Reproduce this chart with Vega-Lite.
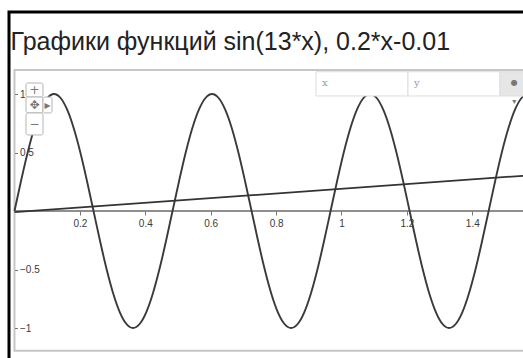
{
  "$schema": "https://vega.github.io/schema/vega-lite/v6.json",
  "width": 520,
  "height": 350,
  "autosize": "none",
  "padding": {"left": 9, "top": 12, "right": 0, "bottom": 0},
  "background": "white",
  "config": {"view": {"stroke": "#000000", "strokeWidth": 3}},
  "datasets": {
    "sine": [
      {"x": 0, "y": 0}, {"x": 0.0201, "y": 0.2588}, {"x": 0.0403, "y": 0.5}, {"x": 0.0604, "y": 0.7071},
      {"x": 0.0806, "y": 0.866}, {"x": 0.1007, "y": 0.9659}, {"x": 0.1208, "y": 1}, {"x": 0.141, "y": 0.9659},
      {"x": 0.1611, "y": 0.866}, {"x": 0.1812, "y": 0.7071}, {"x": 0.2014, "y": 0.5}, {"x": 0.2215, "y": 0.2588},
      {"x": 0.2417, "y": 0}, {"x": 0.2618, "y": -0.2588}, {"x": 0.2819, "y": -0.5}, {"x": 0.3021, "y": -0.7071},
      {"x": 0.3222, "y": -0.866}, {"x": 0.3424, "y": -0.9659}, {"x": 0.3625, "y": -1}, {"x": 0.3826, "y": -0.9659},
      {"x": 0.4028, "y": -0.866}, {"x": 0.4229, "y": -0.7071}, {"x": 0.443, "y": -0.5}, {"x": 0.4632, "y": -0.2588},
      {"x": 0.4833, "y": 0}, {"x": 0.5035, "y": 0.2588}, {"x": 0.5236, "y": 0.5}, {"x": 0.5437, "y": 0.7071},
      {"x": 0.5639, "y": 0.866}, {"x": 0.584, "y": 0.9659}, {"x": 0.6042, "y": 1}, {"x": 0.6243, "y": 0.9659},
      {"x": 0.6444, "y": 0.866}, {"x": 0.6646, "y": 0.7071}, {"x": 0.6847, "y": 0.5}, {"x": 0.7048, "y": 0.2588},
      {"x": 0.725, "y": 0}, {"x": 0.7451, "y": -0.2588}, {"x": 0.7653, "y": -0.5}, {"x": 0.7854, "y": -0.7071},
      {"x": 0.8055, "y": -0.866}, {"x": 0.8257, "y": -0.9659}, {"x": 0.8458, "y": -1}, {"x": 0.866, "y": -0.9659},
      {"x": 0.8861, "y": -0.866}, {"x": 0.9062, "y": -0.7071}, {"x": 0.9264, "y": -0.5}, {"x": 0.9465, "y": -0.2588},
      {"x": 0.9666, "y": 0}, {"x": 0.9868, "y": 0.2588}, {"x": 1.0069, "y": 0.5}, {"x": 1.0271, "y": 0.7071},
      {"x": 1.0472, "y": 0.866}, {"x": 1.0673, "y": 0.9659}, {"x": 1.0875, "y": 1}, {"x": 1.1076, "y": 0.9659},
      {"x": 1.1277, "y": 0.866}, {"x": 1.1479, "y": 0.7071}, {"x": 1.168, "y": 0.5}, {"x": 1.1882, "y": 0.2588},
      {"x": 1.2083, "y": 0}, {"x": 1.2284, "y": -0.2588}, {"x": 1.2486, "y": -0.5}, {"x": 1.2687, "y": -0.7071},
      {"x": 1.2889, "y": -0.866}, {"x": 1.309, "y": -0.9659}, {"x": 1.3291, "y": -1}, {"x": 1.3493, "y": -0.9659},
      {"x": 1.3694, "y": -0.866}, {"x": 1.3895, "y": -0.7071}, {"x": 1.4097, "y": -0.5}, {"x": 1.4298, "y": -0.2588},
      {"x": 1.45, "y": 0}, {"x": 1.4701, "y": 0.2588}, {"x": 1.4902, "y": 0.5}, {"x": 1.5104, "y": 0.7071},
      {"x": 1.5305, "y": 0.866}, {"x": 1.5506, "y": 0.9659}, {"x": 1.5708, "y": 1}
    ],
    "linear": [
      {"x": 0, "y": -0.01},
      {"x": 1.5708, "y": 0.3042}
    ]
  },
  "layer": [
    {
      "description": "plot area with its light grey border; carries the scales and the axes through the origin",
      "data": {"values": [{}]},
      "mark": {"type": "rect", "fill": "white", "stroke": "#c6c6c6", "strokeWidth": 2},
      "encoding": {
        "x": {
          "datum": 0, "type": "quantitative",
          "scale": {"domain": [-0.0168, 1.5734], "nice": false, "zero": false},
          "axis": {
            "orient": "bottom", "offset": -151, "values": [0.2, 0.4, 0.6, 0.8, 1, 1.2, 1.4], "format": "~g",
            "domain": false, "grid": false, "title": null, "tickSize": 4, "tickColor": "#777777",
            "labelFont": "Liberation Sans", "labelFontSize": 10, "labelColor": "#3a3a3a", "labelPadding": 3, "zindex": 1
          }
        },
        "x2": {"datum": 1.5734},
        "y": {
          "datum": -1.194, "type": "quantitative",
          "scale": {"domain": [-1.2906, 1.7009], "nice": false, "zero": false},
          "axis": {
            "orient": "right", "offset": -514.5, "values": [-1, -0.5, 0.5, 1], "format": "~g",
            "domain": false, "grid": false, "title": null, "tickSize": 3, "tickColor": "#777777",
            "labelFont": "Liberation Sans", "labelFontSize": 10, "labelColor": "#3a3a3a", "labelPadding": 2, "zindex": 1
          }
        },
        "y2": {"datum": 1.205}
      }
    },
    {
      "description": "chart heading inside the frame",
      "data": {"values": [{}]},
      "mark": {
        "type": "text", "text": "Графики функций sin(13*x), 0.2*x-0.01",
        "align": "left", "baseline": "alphabetic",
        "font": "Liberation Sans", "fontSize": 25, "color": "#222222"
      },
      "encoding": {
        "x": {"datum": -0.0122, "type": "quantitative"},
        "y": {"datum": 1.376, "type": "quantitative"}
      }
    },
    {
      "description": "horizontal axis line through the origin",
      "data": {"values": [{}]},
      "mark": {"type": "rule", "color": "#6a6a6a", "strokeWidth": 1.5},
      "encoding": {
        "x": {"datum": 0, "type": "quantitative"},
        "x2": {"datum": 1.5734},
        "y": {"datum": 0, "type": "quantitative"}
      }
    },
    {
      "data": {"name": "sine"},
      "mark": {"type": "line", "interpolate": "monotone", "color": "#3a3a3a", "strokeWidth": 1.9},
      "encoding": {
        "x": {"field": "x", "type": "quantitative"},
        "y": {"field": "y", "type": "quantitative"}
      }
    },
    {
      "data": {"name": "linear"},
      "mark": {"type": "line", "color": "#333333", "strokeWidth": 1.8},
      "encoding": {
        "x": {"field": "x", "type": "quantitative"},
        "y": {"field": "y", "type": "quantitative"}
      }
    },
    {
      "description": "zoom control buttons",
      "data": {"values": [
        {"x0": 0.0352, "x1": 0.0872, "y0": 0.974, "y1": 1.094, "glyph": "+"},
        {"x0": 0.0352, "x1": 0.0872, "y0": 0.838, "y1": 0.974, "glyph": "✥"},
        {"x0": 0.0872, "x1": 0.1147, "y0": 0.838, "y1": 0.974, "glyph": "▸"},
        {"x0": 0.0352, "x1": 0.0872, "y0": 0.65, "y1": 0.838, "glyph": "−"}
      ]},
      "layer": [
        {
          "mark": {"type": "rect", "fill": "white", "stroke": "#b5b5b5", "strokeWidth": 1, "cornerRadius": 2},
          "encoding": {
            "x": {"field": "x0", "type": "quantitative"},
            "x2": {"field": "x1"},
            "y": {"field": "y0", "type": "quantitative"},
            "y2": {"field": "y1"}
          }
        },
        {
          "transform": [{"calculate": "(datum.x0 + datum.x1) / 2", "as": "xc"}, {"calculate": "(datum.y0 + datum.y1) / 2", "as": "yc"}],
          "mark": {"type": "text", "color": "#777777", "fontSize": 12, "font": "DejaVu Sans"},
          "encoding": {
            "x": {"field": "xc", "type": "quantitative"},
            "y": {"field": "yc", "type": "quantitative"},
            "text": {"field": "glyph"}
          }
        }
      ]
    },
    {
      "description": "coordinate input bar",
      "data": {"values": [
        {"x0": 0.922, "x1": 1.2034, "label": "x", "fill": "white"},
        {"x0": 1.2034, "x1": 1.4847, "label": "y", "fill": "white"},
        {"x0": 1.4847, "x1": 1.5734, "label": "", "fill": "#e6e6e6"}
      ]},
      "layer": [
        {
          "mark": {"type": "rect", "stroke": "#dddddd", "strokeWidth": 1},
          "encoding": {
            "x": {"field": "x0", "type": "quantitative"},
            "x2": {"field": "x1"},
            "y": {"datum": 0.983, "type": "quantitative"},
            "y2": {"datum": 1.1906},
            "fill": {"field": "fill", "type": "nominal", "scale": null}
          }
        },
        {
          "mark": {"type": "text", "align": "left", "dx": 6, "color": "#999999", "fontSize": 10, "font": "DejaVu Serif"},
          "encoding": {
            "x": {"field": "x0", "type": "quantitative"},
            "y": {"datum": 1.09, "type": "quantitative"},
            "text": {"field": "label"}
          }
        }
      ]
    },
    {
      "description": "menu button glyphs",
      "data": {"values": [
        {"x": 1.528, "y": 1.094, "glyph": "●"},
        {"x": 1.528, "y": 0.93, "glyph": "▾"}
      ]},
      "mark": {"type": "text", "color": "#777777", "fontSize": 8, "font": "DejaVu Sans"},
      "encoding": {
        "x": {"field": "x", "type": "quantitative"},
        "y": {"field": "y", "type": "quantitative"},
        "text": {"field": "glyph"}
      }
    }
  ]
}
